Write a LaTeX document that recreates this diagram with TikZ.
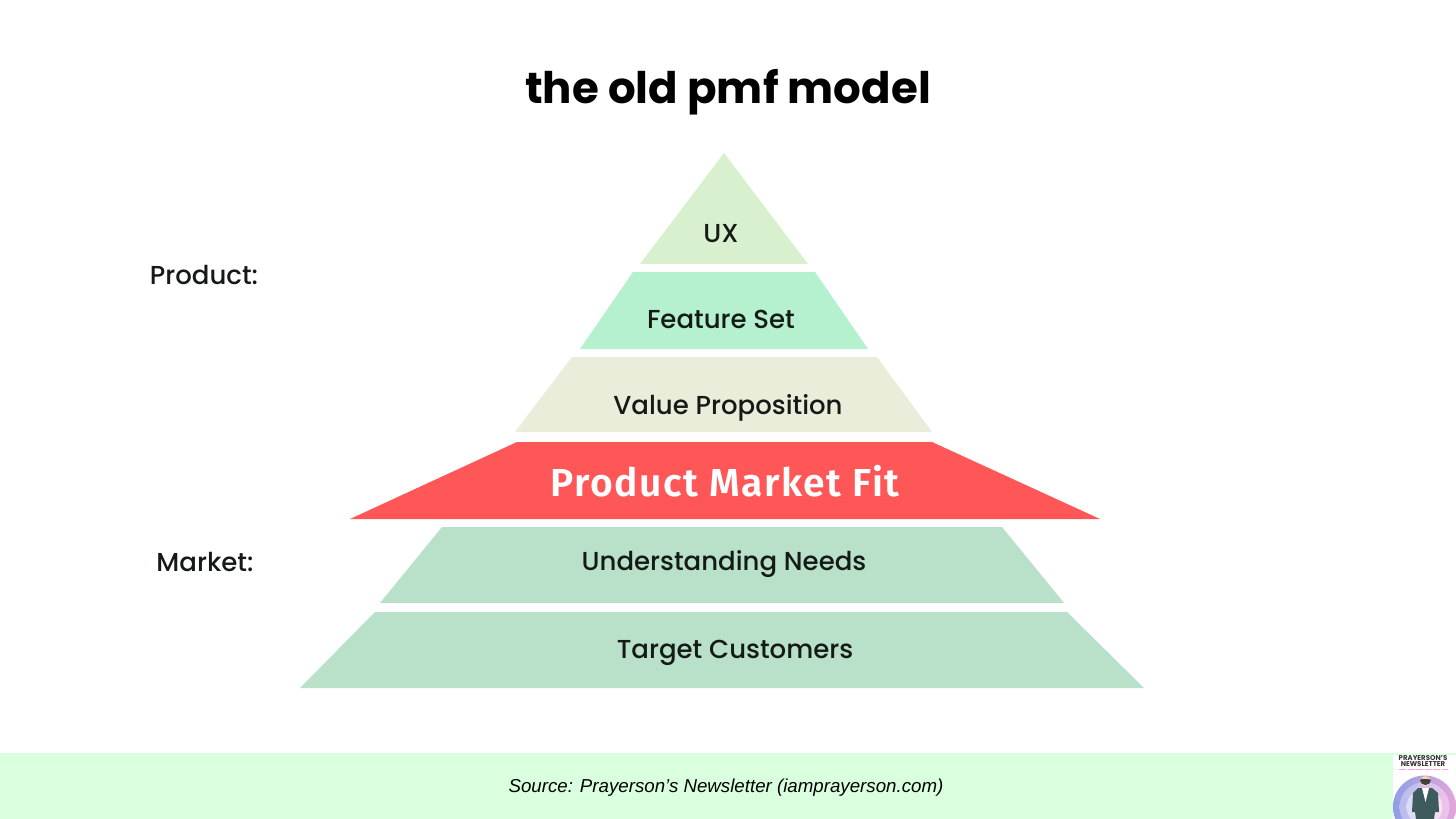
\documentclass[tikz,border=0pt]{standalone}
\usepackage{fontspec}
\setmainfont{Poppins Medium}
\newfontfamily\titlefont{Poppins}[UprightFont=* Bold]
\newfontfamily\fitfont{Fira Sans SemiBold}[LetterSpace=4]
\newfontfamily\srcfont{Liberation Sans}
\definecolor{uxc}{HTML}{D9F0CF}
\definecolor{featc}{HTML}{B5F0CF}
\definecolor{valc}{HTML}{E9EDDA}
\definecolor{fitc}{HTML}{FF5757}
\definecolor{mktc}{HTML}{B9E0C8}
\definecolor{footc}{HTML}{D9FFDF}
\definecolor{inkc}{HTML}{141A16}
\definecolor{suitc}{HTML}{3D5A5C}
\definecolor{ringa}{HTML}{8F9FE6}
\definecolor{ringb}{HTML}{E3A6DC}
\definecolor{ringc}{HTML}{B7BDF0}
\definecolor{ringd}{HTML}{F0C4E6}
\definecolor{ringe}{HTML}{D8DCF8}
\definecolor{ringf}{HTML}{F8E0F0}
\tikzset{
  x=1pt,y=-1pt,
  tier/.style={draw=none},
  lab/.style={font=\fontsize{26}{30}\selectfont,text=inkc,inner sep=0pt,anchor=center},
}
\begin{document}
\begin{tikzpicture}
\useasboundingbox (0,0) rectangle (1456,819);
\fill[white] (0,0) rectangle (1456,819);
% tiers
\fill[tier,uxc] (724,153) -- (808,264) -- (640,264) -- cycle;
\fill[tier,featc] (633,272) -- (815,272) -- (868,349) -- (580,349) -- cycle;
\fill[tier,valc] (572,357) -- (877,357) -- (932,432) -- (515,432) -- cycle;
\fill[tier,fitc] (517,442) -- (932,442) -- (1100,519) -- (350,519) -- cycle;
\fill[tier,mktc] (442,527) -- (1002,527) -- (1064,603) -- (380,603) -- cycle;
\fill[tier,mktc] (375,612) -- (1067,612) -- (1144,688) -- (300,688) -- cycle;
% title
\node[font=\titlefont\fontsize{43.5}{52}\selectfont,inner sep=0pt] (title) at (728,92) {the old pmf model};
% labels
\node[lab] (ux) at (721,234) {UX};
\node[lab] (feat) at (721,319) {Feature Set};
\node[lab] (val) at (728,408) {Value Proposition};
\node[font=\fitfont\fontsize{39}{46}\selectfont,text=white,inner sep=0pt] (fit) at (725,481) {Product Market Fit};
\node[lab] (need) at (724,564) {Understanding Needs};
\node[lab] (cust) at (735,653) {Target Customers};
\node[lab] (prod) at (204,275) {Product:};
\node[lab] (mkt) at (205,562) {Market:};
% footer
\fill[footc] (0,753) rectangle (1456,819);
\node[font=\srcfont\itshape\fontsize{18.7}{23}\selectfont,text=black,inner sep=0pt] (src) at (726,788) {Source: Prayerson’s Newsletter (iamprayerson.com)};
% logo
\begin{scope}
\clip (1393,755) rectangle (1456,819);
\fill[white] (1393,755) rectangle (1456,819);
\shade[left color=ringa,right color=ringb] (1424.5,807) circle (31.5);
\shade[left color=ringc,right color=ringd] (1424.5,807) circle (25);
\shade[left color=ringe,right color=ringf] (1424.5,807) circle (18);
% figure
\fill[suitc] (1418,788) -- (1432,788) -- (1438,793) -- (1439,812) -- (1435,812) -- (1434,819) -- (1416,819) -- (1415,812) -- (1412,812) -- (1413,793) -- cycle;
\fill[white] (1422,788) -- (1429,788) -- (1425.5,802) -- cycle;
\fill[orange!35!white] (1425.5,781) circle (5);
\fill[black!75] (1420,780) arc (180:0:5.5 and 5) -- (1428,779) -- (1422,779) -- cycle;
\node[font=\titlefont\fontsize{7}{6.8}\selectfont,text=black!80,align=center,inner sep=0pt] (logo) at (1423,761) {PRAYERSON’S\\NEWSLETTER};
\draw[magenta!35!white,line width=1pt,dash pattern=on 7pt off 1.5pt] (1399,769) -- (1448,769);
\end{scope}
\end{tikzpicture}
\end{document}
